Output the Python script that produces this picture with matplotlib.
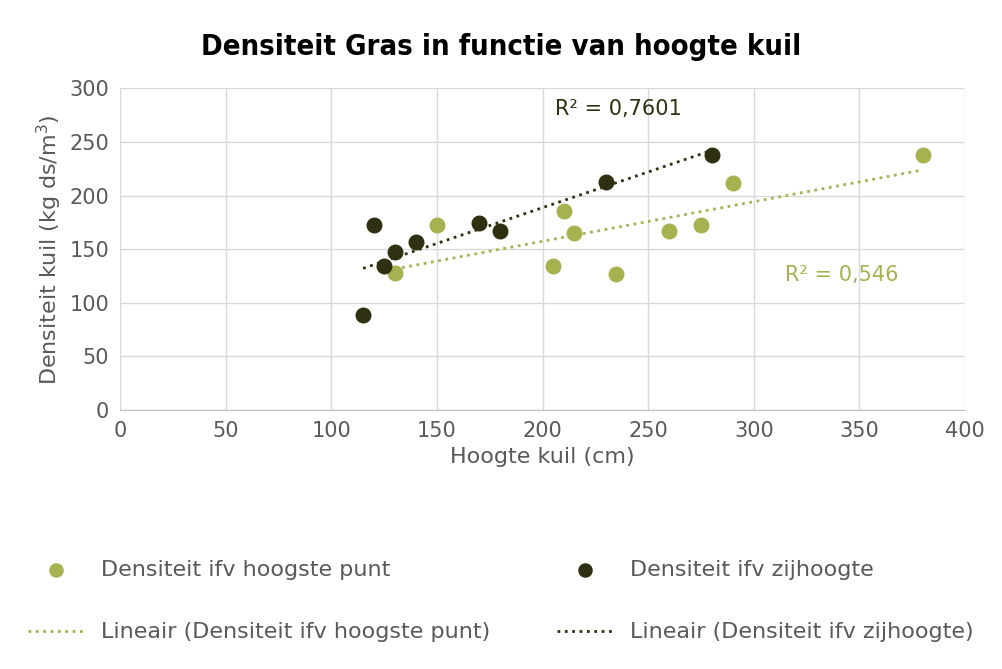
import numpy as np
import matplotlib.pyplot as plt

# Densiteit ifv hoogste punt
x_hoog = [130, 150, 205, 210, 215, 235, 260, 275, 290, 380]
y_hoog = [128, 173, 134, 186, 165, 127, 167, 173, 212, 238]
# Densiteit ifv zijhoogte
x_zij = [115, 120, 125, 130, 140, 170, 180, 230, 280]
y_zij = [89, 173, 134, 147, 157, 174, 167, 213, 238]

groen = '#a7b150'
donker = '#2f2f12'
grijs = '#595959'

fig = plt.figure(figsize=(10.02, 6.69), dpi=100)
ax = fig.add_axes([0.12, 0.387, 0.843, 0.481])

ax.scatter(x_hoog, y_hoog, s=110, color=groen, zorder=3, label='Densiteit ifv hoogste punt')
ax.scatter(x_zij, y_zij, s=110, color=donker, zorder=3, label='Densiteit ifv zijhoogte')

for xs, ys, c, lab in [(x_hoog, y_hoog, groen, 'Lineair (Densiteit ifv hoogste punt)'),
                       (x_zij, y_zij, donker, 'Lineair (Densiteit ifv zijhoogte)')]:
    k, b = np.polyfit(xs, ys, 1)
    xx = np.array([min(xs), max(xs)])
    ax.plot(xx, k * xx + b, ':', color=c, lw=2, label=lab, zorder=2)

ax.text(206, 281, 'R² = 0,7601', color=donker, fontsize=15, va='center')
ax.text(315, 126, 'R² = 0,546', color=groen, fontsize=15, va='center')

ax.set_xlim(0, 400)
ax.set_ylim(0, 300)
ax.set_xticks(range(0, 401, 50))
ax.set_yticks(range(0, 301, 50))
ax.grid(color='#d9d9d9', lw=1)
ax.set_axisbelow(True)
for s in ['top', 'right', 'left']:
    ax.spines[s].set_visible(False)
ax.spines['bottom'].set_color('#bfbfbf')
ax.tick_params(length=0, labelsize=15, labelcolor=grijs, pad=8)
ax.set_xlabel('Hoogte kuil (cm)', fontsize=16, color=grijs)
ax.set_ylabel('Densiteit kuil (kg ds/m$^3$)', fontsize=16, color=grijs)

fig.suptitle('Densiteit Gras in functie van hoogte kuil', fontsize=21, fontweight='bold',
             family='DejaVu Sans', stretch='condensed', y=0.95)

h, l = ax.get_legend_handles_labels()
order = [0, 2, 1, 3]
fig.legend([h[i] for i in order], [l[i] for i in order], ncol=2, loc='lower center',
           bbox_to_anchor=(0.5, 0.01), frameon=False, fontsize=16, labelcolor=grijs,
           columnspacing=3, handlelength=2.5, markerscale=0.9, labelspacing=1.9)

fig.savefig('out.png')
